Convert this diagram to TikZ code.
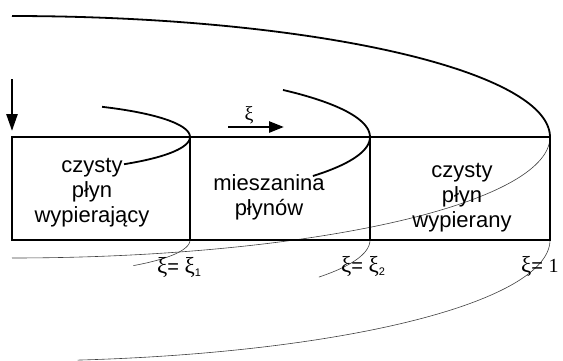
\documentclass[tikz,border=0pt]{standalone}
\usepackage{fontspec}
\setmainfont{Liberation Sans}
\newfontfamily\serifgr{Liberation Serif}
\usetikzlibrary{arrows.meta}
\newcommand\gxi{{\serifgr\fontsize{23}{23}\selectfont ξ}}
\begin{document}
\begin{tikzpicture}[x=1pt,y=-1pt,
  thickc/.style={line width=1.8pt, black},
  thinc/.style={line width=0.6pt, black!75},
  boxline/.style={line width=1.7pt, black},
  cellt/.style={inner sep=0pt, anchor=base, font=\fontsize{22}{25}\selectfont},
  lbl/.style={inner sep=0pt, anchor=base west, font=\fontsize{20}{20}\selectfont},
  bigarrow/.style={line width=2.6pt, -{Triangle[length=15pt,width=11pt]}}]
\useasboundingbox (0,0) rectangle (563,360);
% hidden (thin) parts
\draw[thinc] plot[domain=0:-90, samples=80] ({12+538*cos(\x)},{137-121*sin(\x)});
\draw[thinc] plot[domain=0:83, samples=80] ({12+538*cos(\x)},{240+121*sin(\x)});
\draw[thinc] plot[domain=0:47, samples=40] ({12+178*cos(\x)},{240+35*sin(\x)});
\draw[thinc] plot[domain=0:31, samples=40] ({12+358*cos(\x)},{240+72*sin(\x)});
% tube
\coordinate (bl) at (12,240);
\coordinate (tr) at (550,137);
\draw[boxline] (bl) rectangle (tr);
\coordinate (d1t) at (190,137); \coordinate (d1b) at (190,240);
\coordinate (d2t) at (370,137); \coordinate (d2b) at (370,240);
\draw[boxline] (d1t) -- (d1b);
\draw[boxline] (d2t) -- (d2b);
% visible (thick) fronts
\draw[thickc] plot[domain=90:0, samples=80] ({12+538*cos(\x)},{137-121*sin(\x)});
\draw[thickc] plot[domain=59.6:-51, samples=60] ({12+178*cos(\x)},{137-35*sin(\x)});
\draw[thickc] plot[domain=40.8:-32.8, samples=60] ({12+358*cos(\x)},{137-72*sin(\x)});
% arrows
\coordinate (v1) at (12,79); \coordinate (v2) at (12,131);
\draw[bigarrow, -{Triangle[length=17pt,width=11pt]}] (v1) -- (v2);
\coordinate (h1) at (228,127); \coordinate (h2) at (284,127);
\draw[bigarrow] (h1) -- (h2);
\node[inner sep=0pt, anchor=base, font=\serifgr\fontsize{20}{20}\selectfont] (xi) at (249,120) {ξ};
% cell texts
\node[cellt] (c1a) at (92,172) {czysty};
\node[cellt] (c1b) at (92,197) {płyn};
\node[cellt] (c1c) at (92,222) {wypierający};
\node[cellt] (c2a) at (269,190) {mieszanina};
\node[cellt] (c2b) at (269,215) {płynów};
\node[cellt] (c3a) at (462,177) {czysty};
\node[cellt] (c3b) at (462,202) {płyn};
\node[cellt] (c3c) at (462,227) {wypierany};
% labels
\node[lbl] (l1) at (157,273) {\gxi= \gxi\raisebox{-3pt}{\fontsize{11}{11}\selectfont 1}};
\node[lbl] (l2) at (341,272) {\gxi= \gxi\raisebox{-3pt}{\fontsize{11}{11}\selectfont 2}};
\node[lbl] (l3) at (521,272) {\gxi= {\serifgr 1}};
\end{tikzpicture}
\end{document}
